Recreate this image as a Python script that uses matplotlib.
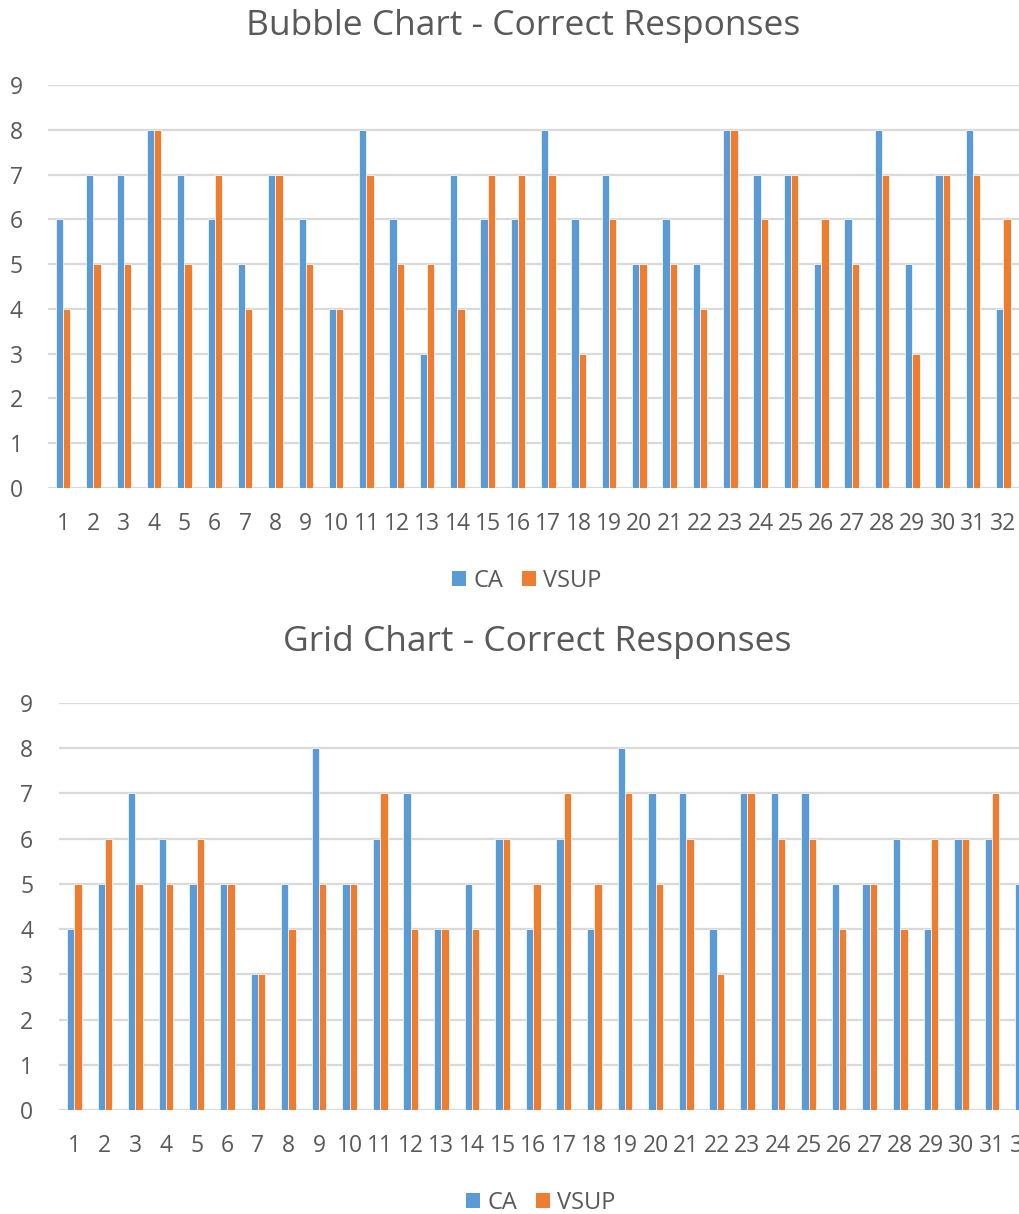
import numpy as np
import matplotlib
matplotlib.use("Agg")
import matplotlib.pyplot as plt
from matplotlib.patches import Patch

plt.rcParams['font.family'] = ['Open Sans', 'DejaVu Sans']

questions = list(range(1, 33))

bubble_ca = [6, 7, 7, 8, 7, 6, 5, 7, 6, 4, 8, 6, 3, 7, 6, 6,
             8, 6, 7, 5, 6, 5, 8, 7, 7, 5, 6, 8, 5, 7, 8, 4]
bubble_vsup = [4, 5, 5, 8, 5, 7, 4, 7, 5, 4, 7, 5, 5, 4, 7, 7,
               7, 3, 6, 5, 5, 4, 8, 6, 7, 6, 5, 7, 3, 7, 7, 6]

grid_ca = [4, 5, 7, 6, 5, 5, 3, 5, 8, 5, 6, 7, 4, 5, 6, 4,
           6, 4, 8, 7, 7, 4, 7, 7, 7, 5, 5, 6, 4, 6, 6, 5]
grid_vsup = [5, 6, 5, 5, 6, 5, 3, 4, 5, 5, 7, 4, 4, 4, 6, 5,
             7, 5, 7, 5, 6, 3, 7, 6, 6, 4, 5, 4, 6, 6, 7, 5]

BLUE = '#5B9BD5'
ORANGE = '#ED7D31'
TEXT = '#595959'
GRID = '#D9D9D9'

W, H = 1019, 1214
fig = plt.figure(figsize=(W / 100, H / 100), dpi=100)


def px_axes(left, top, right, bottom):
    return fig.add_axes([left / W, 1 - bottom / H, (right - left) / W, (bottom - top) / H])


def draw_panel(ax, ca, vsup, title, title_xy, legend_xy, ypad):
    x = np.arange(1, len(questions) + 1)
    w = 0.24
    ax.bar(x - w / 2, ca, w, color=BLUE, edgecolor='white', linewidth=0.5, zorder=3)
    ax.bar(x + w / 2, vsup, w, color=ORANGE, edgecolor='white', linewidth=0.5, zorder=3)
    ax.set_xlim(0.5, len(questions) + 0.5)
    ax.set_ylim(0, 9)
    ax.set_yticks(range(0, 10))
    ax.set_xticks(x)
    ax.set_xticklabels([str(q) for q in questions])
    ax.grid(axis='y', color=GRID, linewidth=1.6, zorder=0)
    ax.set_axisbelow(True)
    for s in ax.spines.values():
        s.set_visible(False)
    ax.tick_params(axis='both', length=0, colors=TEXT, labelsize=16.5)
    ax.tick_params(axis='y', pad=ypad)
    ax.tick_params(axis='x', pad=17)
    fig.text(title_xy[0] / W, 1 - title_xy[1] / H, title, ha='center', va='center',
             fontsize=25.5, color=TEXT)
    handles = [Patch(facecolor=BLUE, label='CA'), Patch(facecolor=ORANGE, label='VSUP')]
    leg = ax.legend(handles=handles, loc='center',
                    bbox_to_anchor=(legend_xy[0] / W, 1 - legend_xy[1] / H),
                    bbox_transform=fig.transFigure, ncol=2, frameon=False, fontsize=17,
                    handlelength=0.6, handleheight=0.6, handletextpad=0.3, columnspacing=0.8)
    for t in leg.get_texts():
        t.set_color(TEXT)


ax1 = px_axes(48, 85, 1018.5, 488)
draw_panel(ax1, bubble_ca, bubble_vsup, 'Bubble Chart - Correct Responses',
           (523, 26), (527, 581), 18)

# the second panel runs past the right edge, so question 32 is only partly shown
ax2 = px_axes(59, 703, 1038, 1110)
draw_panel(ax2, grid_ca, grid_vsup, 'Grid Chart - Correct Responses',
           (537, 642), (541, 1203), 18.5)

fig.savefig('out.png', dpi=100)
